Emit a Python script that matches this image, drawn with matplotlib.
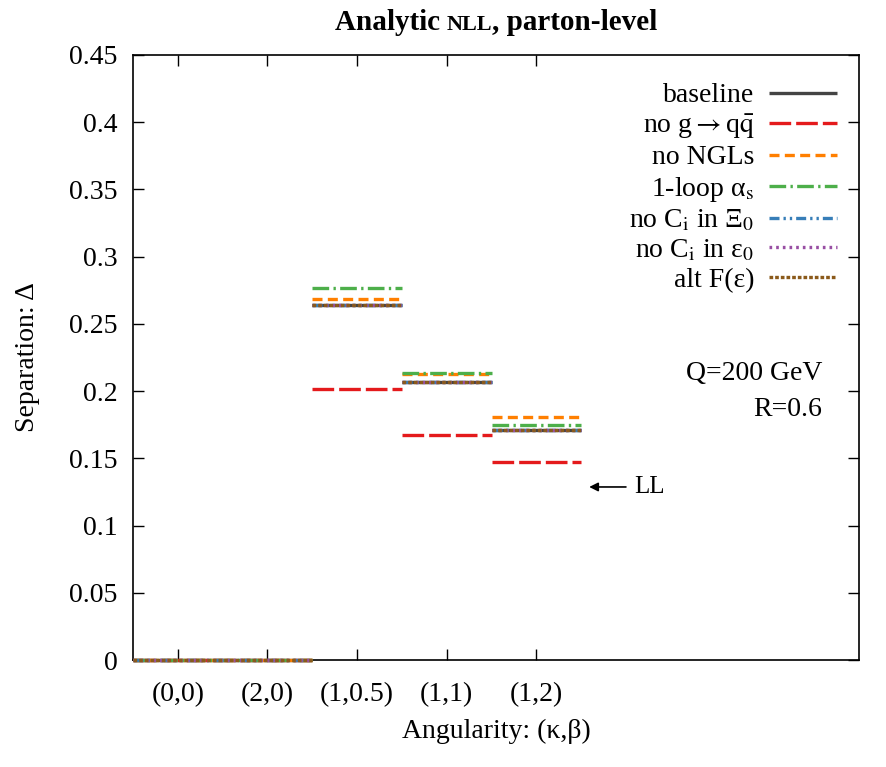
import numpy as np
import matplotlib as mpl
mpl.use('Agg')
from matplotlib import pyplot as plt

# Terminology: sep=separation (Delta)  cat=angularity category

categories = ['(0,0)', '(2,0)', '(1,0.5)', '(1,1)', '(1,2)']

sep_baseline = [0.0, 0.0, 0.2643, 0.2065, 0.1708]
sep_no_g2qq = [0.0, 0.0, 0.2016, 0.1675, 0.1475]
sep_no_ngls = [0.0, 0.0, 0.2683, 0.2125, 0.1805]
sep_1loop = [0.0, 0.0, 0.2765, 0.2135, 0.1748]
sep_no_ci_xi = [0.0, 0.0, 0.2643, 0.2065, 0.1708]
sep_no_ci_eps = [0.0, 0.0, 0.2643, 0.2065, 0.1708]
sep_alt_f = [0.0, 0.0, 0.2643, 0.2065, 0.1708]

series_labels = ['baseline',
                 r'no g$\rightarrow$q$\bar{\mathrm{q}}$',
                 'no NGLs',
                 r'1-loop α$_\mathrm{s}$',
                 r'no C$_\mathrm{i}$ in Ξ$_\mathrm{0}$',
                 r'no C$_\mathrm{i}$ in ε$_\mathrm{0}$',
                 'alt F(ε)']

plt.rcParams['font.family'] = ['Liberation Serif', 'DejaVu Serif']
plt.rcParams['mathtext.fontset'] = 'stix'
plt.rcParams['font.size'] = 20

LW = 2.4
styles = [  # colour, dash pattern (in linewidths)
    ('#444444', 'solid'),
    ('#e41a1c', (0, (6.5, 1.5))),
    ('#ff7f00', (0, (3.0, 1.6))),
    ('#4daf4a', (0, (5.0, 1.3, 0.7, 1.3))),
    ('#377eb8', (0, (3.0, 1.2, 0.7, 1.2, 0.7, 1.2))),
    ('#984ea3', (0, (0.8, 1.2))),
    ('#8b5a1b', (0, (1.1, 0.6))),
]


def plot_separation(outfile: str):
    fig = plt.figure(figsize=(8.86, 7.67), dpi=100)
    ax = fig.add_axes([0.1501, 0.1395, 0.8194, 0.7888])
    all_series = [sep_baseline, sep_no_g2qq, sep_no_ngls, sep_1loop,
                  sep_no_ci_xi, sep_no_ci_eps, sep_alt_f]
    x = np.arange(len(categories))
    for vals, lab, (col, ls) in zip(all_series, series_labels, styles):
        #----- one horizontal step per category, equal neighbours merged:
        i = 0
        first = True
        while i < len(vals):
            j = i
            while j + 1 < len(vals) and vals[j + 1] == vals[i]:
                j += 1
            ax.plot([x[i] - 0.5, x[j] + 0.5], [vals[i], vals[i]], color=col,
                    linestyle=ls, linewidth=LW, solid_capstyle='butt',
                    dash_capstyle='butt', label=lab if first else None,
                    clip_on=False, zorder=3)
            first = False
            i = j + 1

    ax.set_xlim(-0.5, 7.6)
    ax.set_ylim(0, 0.45)
    ax.set_xticks(x)
    ax.set_xticklabels(categories)
    ax.set_yticks(np.arange(0, 0.451, 0.05))
    ax.set_yticklabels(['0', '0.05', '0.1', '0.15', '0.2', '0.25', '0.3',
                        '0.35', '0.4', '0.45'])
    ax.tick_params(direction='in', length=8, width=1, top=True, right=True)
    ax.tick_params(axis='x', pad=16)
    ax.tick_params(axis='y', pad=11)
    for sp in ax.spines.values():
        sp.set_linewidth(1.2)
    ax.set_xlabel('Angularity: (κ,β)', labelpad=8)
    ax.set_ylabel('Separation: Δ', labelpad=21)

    ax.legend(loc='upper right', bbox_to_anchor=(0.997, 0.986),
              frameon=False, markerfirst=False, handlelength=2.45,
              handletextpad=0.54, labelspacing=0.15, borderaxespad=0.3)

    #----- annotations:
    ax.text(7.19, 0.2133, 'Q=200 GeV', ha='right', va='center')
    ax.text(7.19, 0.1860, 'R=0.6', ha='right', va='center')
    ax.annotate('', xy=(4.59, 0.1287), xytext=(5.0, 0.1287),
                arrowprops=dict(arrowstyle='-|>', color='black', lw=1.2,
                                mutation_scale=13, shrinkA=0, shrinkB=0))
    ax.text(5.09, 0.1287, 'LL', ha='left', va='center', fontsize=18)

    #----- title with small-caps NLL:
    parts = [('Analytic ', 21), ('NLL', 16), (', parton-level', 21)]
    texts = [fig.text(0, 0.9605, p, fontsize=s, fontweight='bold',
                      va='baseline', ha='left') for p, s in parts]
    fig.canvas.draw()
    rend = fig.canvas.get_renderer()
    widths = [t.get_window_extent(rend).width for t in texts]
    total = sum(widths)
    xpix = 0.5601 * fig.bbox.width - total / 2
    for t, w in zip(texts, widths):
        t.set_x(xpix / fig.bbox.width)
        xpix += w

    fig.savefig(outfile, dpi=100)


plot_separation('out.png')
